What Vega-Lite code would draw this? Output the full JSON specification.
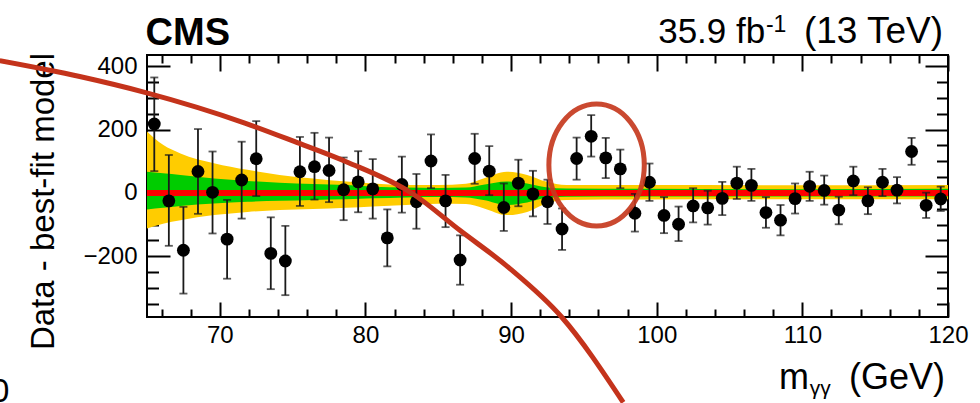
{
  "$schema": "https://vega.github.io/schema/vega-lite/v6.json",
  "width": 801,
  "height": 262,
  "autosize": {"type": "none"},
  "padding": {"left": 147, "top": 55, "right": 32, "bottom": 86},
  "background": "white",
  "config": {
    "view": {"stroke": "black", "strokeWidth": 2},
    "font": "Liberation Sans",
    "axis": {"domain": false, "grid": false, "tickColor": "black", "tickWidth": 2, "labelColor": "black", "labelFont": "Liberation Sans", "zindex": 1, "labelFlush": false, "labelOverlap": false}
  },
  "datasets": {
    "pts": [
      {"m": 65.5, "d": 218, "lo": 69, "hi": 365},
      {"m": 66.5, "d": -25, "lo": -167, "hi": 120},
      {"m": 67.5, "d": -181, "lo": -318, "hi": -44},
      {"m": 68.5, "d": 68, "lo": -66, "hi": 202},
      {"m": 69.5, "d": 2, "lo": -128, "hi": 131},
      {"m": 70.5, "d": -146, "lo": -271, "hi": -22},
      {"m": 71.5, "d": 41, "lo": -81, "hi": 162},
      {"m": 72.5, "d": 108, "lo": -10, "hi": 227},
      {"m": 73.5, "d": -191, "lo": -304, "hi": -77},
      {"m": 74.5, "d": -215, "lo": -323, "hi": -104},
      {"m": 75.5, "d": 67, "lo": -41, "hi": 177},
      {"m": 76.5, "d": 83, "lo": -21, "hi": 190},
      {"m": 77.5, "d": 71, "lo": -29, "hi": 175},
      {"m": 78.5, "d": 10, "lo": -86, "hi": 112},
      {"m": 79.5, "d": 35, "lo": -61, "hi": 132},
      {"m": 80.5, "d": 13, "lo": -81, "hi": 107},
      {"m": 81.5, "d": -142, "lo": -232, "hi": -52},
      {"m": 82.5, "d": 27, "lo": -62, "hi": 115},
      {"m": 83.5, "d": -28, "lo": -113, "hi": 60},
      {"m": 84.5, "d": 101, "lo": 15, "hi": 185},
      {"m": 85.5, "d": -25, "lo": -108, "hi": 57},
      {"m": 86.5, "d": -212, "lo": -290, "hi": -134},
      {"m": 87.5, "d": 109, "lo": 29, "hi": 187},
      {"m": 88.5, "d": 69, "lo": -7, "hi": 148},
      {"m": 89.5, "d": -46, "lo": -120, "hi": 30},
      {"m": 90.5, "d": 31, "lo": -42, "hi": 105},
      {"m": 91.5, "d": -3, "lo": -74, "hi": 70},
      {"m": 92.5, "d": -28, "lo": -98, "hi": 42},
      {"m": 93.5, "d": -114, "lo": -180, "hi": -49},
      {"m": 94.5, "d": 109, "lo": 42, "hi": 175},
      {"m": 95.5, "d": 179, "lo": 115, "hi": 246},
      {"m": 96.5, "d": 111, "lo": 47, "hi": 174},
      {"m": 97.5, "d": 76, "lo": 15, "hi": 137},
      {"m": 98.5, "d": -64, "lo": -122, "hi": -3},
      {"m": 99.5, "d": 34, "lo": -25, "hi": 93},
      {"m": 100.5, "d": -71, "lo": -127, "hi": -13},
      {"m": 101.5, "d": -99, "lo": -152, "hi": -43},
      {"m": 102.5, "d": -41, "lo": -93, "hi": 15},
      {"m": 103.5, "d": -47, "lo": -100, "hi": 7},
      {"m": 104.5, "d": -17, "lo": -70, "hi": 35},
      {"m": 105.5, "d": 31, "lo": -19, "hi": 83},
      {"m": 106.5, "d": 24, "lo": -25, "hi": 76},
      {"m": 107.5, "d": -62, "lo": -110, "hi": -13},
      {"m": 108.5, "d": -86, "lo": -134, "hi": -38},
      {"m": 109.5, "d": -18, "lo": -65, "hi": 30},
      {"m": 110.5, "d": 21, "lo": -25, "hi": 67},
      {"m": 111.5, "d": 8, "lo": -37, "hi": 55},
      {"m": 112.5, "d": -54, "lo": -99, "hi": -12},
      {"m": 113.5, "d": 38, "lo": -7, "hi": 83},
      {"m": 114.5, "d": -25, "lo": -67, "hi": 18},
      {"m": 115.5, "d": 34, "lo": -10, "hi": 76},
      {"m": 116.5, "d": 9, "lo": -33, "hi": 50},
      {"m": 117.5, "d": 131, "lo": 89, "hi": 174},
      {"m": 118.5, "d": -39, "lo": -79, "hi": 1},
      {"m": 119.5, "d": -19, "lo": -57, "hi": 20}
    ],
    "band": [
      {"m": 65, "y2lo": -112, "y2hi": 194, "y1lo": -52, "y1hi": 67},
      {"m": 66.1, "y2lo": -97, "y2hi": 152, "y1lo": -47, "y1hi": 62},
      {"m": 67.3, "y2lo": -86, "y2hi": 125, "y1lo": -41, "y1hi": 57},
      {"m": 69.6, "y2lo": -70, "y2hi": 94, "y1lo": -33, "y1hi": 46},
      {"m": 71.9, "y2lo": -60, "y2hi": 73, "y1lo": -28, "y1hi": 38},
      {"m": 74.1, "y2lo": -54, "y2hi": 57, "y1lo": -25, "y1hi": 32},
      {"m": 76.4, "y2lo": -51, "y2hi": 46, "y1lo": -22, "y1hi": 28},
      {"m": 78.7, "y2lo": -47, "y2hi": 36, "y1lo": -20, "y1hi": 25},
      {"m": 80.5, "y2lo": -43, "y2hi": 30, "y1lo": -17, "y1hi": 20},
      {"m": 82.8, "y2lo": -38, "y2hi": 25, "y1lo": -14, "y1hi": 17},
      {"m": 85, "y2lo": -34, "y2hi": 25, "y1lo": -13, "y1hi": 16},
      {"m": 86.9, "y2lo": -35, "y2hi": 29, "y1lo": -14, "y1hi": 17},
      {"m": 88.1, "y2lo": -48, "y2hi": 46, "y1lo": -22, "y1hi": 26},
      {"m": 89.7, "y2lo": -70, "y2hi": 67, "y1lo": -38, "y1hi": 36},
      {"m": 91.1, "y2lo": -60, "y2hi": 57, "y1lo": -30, "y1hi": 30},
      {"m": 92.4, "y2lo": -33, "y2hi": 36, "y1lo": -16, "y1hi": 18},
      {"m": 93.8, "y2lo": -22, "y2hi": 25, "y1lo": -12, "y1hi": 14},
      {"m": 99, "y2lo": -21, "y2hi": 25, "y1lo": -11, "y1hi": 13},
      {"m": 110, "y2lo": -20, "y2hi": 24, "y1lo": -11, "y1hi": 12},
      {"m": 120, "y2lo": -20, "y2hi": 25, "y1lo": -11, "y1hi": 13}
    ],
    "curve": [
      {"cx": 54.89, "cy": 418},
      {"cx": 60.38, "cy": 368},
      {"cx": 64.85, "cy": 318},
      {"cx": 71.72, "cy": 221},
      {"cx": 75.15, "cy": 162},
      {"cx": 78.72, "cy": 98},
      {"cx": 83.19, "cy": -1},
      {"cx": 86.48, "cy": -118},
      {"cx": 89.92, "cy": -239},
      {"cx": 93.47, "cy": -392},
      {"cx": 97.7, "cy": -662}
    ],
    "one": [{"k": 1}]
  },
  "resolve": {"axis": {"x": "independent", "y": "independent"}},
  "layer": [
    {
      "data": {"name": "band"},
      "mark": {"type": "area", "color": "#ffcc00", "interpolate": "monotone", "opacity": 1},
      "encoding": {
        "x": {"field": "m", "type": "quantitative", "scale": {"domain": [65, 120], "nice": false, "zero": false},
          "axis": {"orient": "bottom", "values": [70, 80, 90, 100, 110, 120], "tickSize": -15, "labelFontSize": 24, "labelPadding": 21, "title": null}},
        "y": {"field": "y2lo", "type": "quantitative", "scale": {"domain": [-392, 436], "nice": false, "zero": false},
          "axis": {"orient": "left", "values": [-200, 0, 200, 400], "tickSize": -23, "labelFontSize": 24, "labelPadding": 33,
            "title": "Data - best-fit model", "titleFont": "Liberation Sans", "titleFontSize": 33, "titleFontWeight": "normal", "titleColor": "black",
            "titleX": -94, "titleY": 146, "titleBaseline": "alphabetic", "titleAngle": -90, "titleAlign": "center"}},
        "y2": {"field": "y2hi"}
      }
    },
    {
      "data": {"name": "band"},
      "mark": {"type": "area", "color": "#00cc00", "interpolate": "monotone", "opacity": 1},
      "encoding": {
        "x": {"field": "m", "type": "quantitative", "scale": {"domain": [65, 120], "nice": false, "zero": false},
          "axis": {"orient": "bottom", "values": [66, 68, 72, 74, 76, 78, 82, 84, 86, 88, 92, 94, 96, 98, 102, 104, 106, 108, 112, 114, 116, 118], "tickSize": -8, "labels": false, "title": null}},
        "y": {"field": "y1lo", "type": "quantitative", "scale": {"domain": [-392, 436], "nice": false, "zero": false},
          "axis": {"orient": "left", "values": [-350, -300, -250, -150, -100, -50, 50, 100, 150, 250, 300, 350], "tickSize": -11.5, "labels": false, "title": null}},
        "y2": {"field": "y1hi"}
      }
    },
    {
      "data": {"name": "band"},
      "mark": {"type": "line", "color": "#ff0000", "strokeWidth": 6},
      "encoding": {
        "x": {"field": "m", "type": "quantitative", "scale": {"domain": [65, 120], "nice": false, "zero": false},
          "axis": {"orient": "top", "values": [70, 80, 90, 100, 110, 120], "tickSize": -16, "labels": false, "title": null}},
        "y": {"datum": 0, "type": "quantitative", "scale": {"domain": [-392, 436], "nice": false, "zero": false},
          "axis": {"orient": "right", "values": [-200, 0, 200, 400], "tickSize": -23, "labels": false, "title": null}}
      }
    },
    {
      "data": {"name": "pts"},
      "mark": {"type": "rule", "color": "#1a1a1a", "strokeWidth": 1.8},
      "encoding": {
        "x": {"field": "m", "type": "quantitative", "scale": {"domain": [65, 120], "nice": false, "zero": false},
          "axis": {"orient": "top", "values": [66, 68, 72, 74, 76, 78, 82, 84, 86, 88, 92, 94, 96, 98, 102, 104, 106, 108, 112, 114, 116, 118], "tickSize": -8, "labels": false, "title": null}},
        "y": {"field": "lo", "type": "quantitative", "scale": {"domain": [-392, 436], "nice": false, "zero": false},
          "axis": {"orient": "right", "values": [-350, -300, -250, -150, -100, -50, 50, 100, 150, 250, 300, 350], "tickSize": -11.5, "labels": false, "title": null}},
        "y2": {"field": "hi"}
      }
    },
    {
      "data": {"name": "pts"},
      "mark": {"type": "tick", "orient": "horizontal", "color": "#1a1a1a", "size": 8, "thickness": 1.8},
      "encoding": {
        "x": {"field": "m", "type": "quantitative", "scale": {"domain": [65, 120], "nice": false, "zero": false}, "axis": null},
        "y": {"field": "lo", "type": "quantitative", "scale": {"domain": [-392, 436], "nice": false, "zero": false}, "axis": null}
      }
    },
    {
      "data": {"name": "pts"},
      "mark": {"type": "tick", "orient": "horizontal", "color": "#1a1a1a", "size": 8, "thickness": 1.8},
      "encoding": {
        "x": {"field": "m", "type": "quantitative", "scale": {"domain": [65, 120], "nice": false, "zero": false}, "axis": null},
        "y": {"field": "hi", "type": "quantitative", "scale": {"domain": [-392, 436], "nice": false, "zero": false}, "axis": null}
      }
    },
    {
      "data": {"name": "pts"},
      "mark": {"type": "point", "shape": "circle", "filled": true, "color": "black", "size": 165, "opacity": 1},
      "encoding": {
        "x": {"field": "m", "type": "quantitative", "scale": {"domain": [65, 120], "nice": false, "zero": false}, "axis": null},
        "y": {"field": "d", "type": "quantitative", "scale": {"domain": [-392, 436], "nice": false, "zero": false}, "axis": null}
      }
    },
    {
      "data": {"name": "curve"},
      "mark": {"type": "line", "color": "#c4331b", "strokeWidth": 5, "interpolate": "monotone", "clip": false},
      "encoding": {
        "x": {"field": "cx", "type": "quantitative", "scale": {"domain": [65, 120], "nice": false, "zero": false}, "axis": null},
        "y": {"field": "cy", "type": "quantitative", "scale": {"domain": [-392, 436], "nice": false, "zero": false}, "axis": null}
      }
    },
    {
      "data": {"name": "one"},
      "mark": {"type": "point", "shape": "M 0.782 0 C 0.782 0.552 0.432 1 0 1 C -0.432 1 -0.782 0.552 -0.782 0 C -0.782 -0.552 -0.432 -1 0 -1 C 0.432 -1 0.782 -0.552 0.782 0 Z", "size": 14884, "filled": false, "color": "#c63a1f", "strokeWidth": 5, "opacity": 0.92},
      "encoding": {
        "x": {"datum": 95.87, "type": "quantitative", "scale": {"domain": [65, 120], "nice": false, "zero": false}, "axis": null},
        "y": {"datum": 88.4, "type": "quantitative", "scale": {"domain": [-392, 436], "nice": false, "zero": false}, "axis": null}
      }
    },
    {
      "data": {"name": "one"},
      "mark": {"type": "text", "text": "CMS", "font": "Liberation Sans", "fontSize": 38, "fontWeight": "bold", "align": "left", "baseline": "alphabetic", "color": "black"},
      "encoding": {
        "x": {"datum": 64.9, "type": "quantitative", "scale": {"domain": [65, 120], "nice": false, "zero": false}, "axis": null},
        "y": {"datum": 469, "type": "quantitative", "scale": {"domain": [-392, 436], "nice": false, "zero": false}, "axis": null}
      }
    },
    {
      "data": {"name": "one"},
      "mark": {"type": "text", "text": "35.9 fb", "font": "Liberation Sans", "fontSize": 35, "align": "right", "baseline": "alphabetic", "color": "black"},
      "encoding": {
        "x": {"datum": 107.45, "type": "quantitative", "scale": {"domain": [65, 120], "nice": false, "zero": false}, "axis": null},
        "y": {"datum": 474, "type": "quantitative", "scale": {"domain": [-392, 436], "nice": false, "zero": false}, "axis": null}
      }
    },
    {
      "data": {"name": "one"},
      "mark": {"type": "text", "text": "-1", "font": "Liberation Sans", "fontSize": 23, "align": "left", "baseline": "alphabetic", "color": "black"},
      "encoding": {
        "x": {"datum": 107.5, "type": "quantitative", "scale": {"domain": [65, 120], "nice": false, "zero": false}, "axis": null},
        "y": {"datum": 510, "type": "quantitative", "scale": {"domain": [-392, 436], "nice": false, "zero": false}, "axis": null}
      }
    },
    {
      "data": {"name": "one"},
      "mark": {"type": "text", "text": "(13 TeV)", "font": "Liberation Sans", "fontSize": 37, "align": "right", "baseline": "alphabetic", "color": "black"},
      "encoding": {
        "x": {"datum": 119.66, "type": "quantitative", "scale": {"domain": [65, 120], "nice": false, "zero": false}, "axis": null},
        "y": {"datum": 474, "type": "quantitative", "scale": {"domain": [-392, 436], "nice": false, "zero": false}, "axis": null}
      }
    },
    {
      "data": {"name": "one"},
      "mark": {"type": "text", "text": "m", "font": "Liberation Sans", "fontSize": 36, "align": "left", "baseline": "alphabetic", "color": "black"},
      "encoding": {
        "x": {"datum": 108.4, "type": "quantitative", "scale": {"domain": [65, 120], "nice": false, "zero": false}, "axis": null},
        "y": {"datum": -618, "type": "quantitative", "scale": {"domain": [-392, 436], "nice": false, "zero": false}, "axis": null}
      }
    },
    {
      "data": {"name": "one"},
      "mark": {"type": "text", "text": "γγ", "font": "Liberation Sans", "fontSize": 21, "align": "left", "baseline": "alphabetic", "color": "black"},
      "encoding": {
        "x": {"datum": 110.5, "type": "quantitative", "scale": {"domain": [65, 120], "nice": false, "zero": false}, "axis": null},
        "y": {"datum": -637, "type": "quantitative", "scale": {"domain": [-392, 436], "nice": false, "zero": false}, "axis": null}
      }
    },
    {
      "data": {"name": "one"},
      "mark": {"type": "text", "text": "(GeV)", "font": "Liberation Sans", "fontSize": 36, "align": "right", "baseline": "alphabetic", "color": "black"},
      "encoding": {
        "x": {"datum": 119.79, "type": "quantitative", "scale": {"domain": [65, 120], "nice": false, "zero": false}, "axis": null},
        "y": {"datum": -618, "type": "quantitative", "scale": {"domain": [-392, 436], "nice": false, "zero": false}, "axis": null}
      }
    },
    {
      "data": {"name": "one"},
      "mark": {"type": "text", "text": "0", "font": "Liberation Sans", "fontSize": 33, "align": "center", "baseline": "alphabetic", "color": "black"},
      "encoding": {
        "x": {"datum": 54.92, "type": "quantitative", "scale": {"domain": [65, 120], "nice": false, "zero": false}, "axis": null},
        "y": {"datum": -662, "type": "quantitative", "scale": {"domain": [-392, 436], "nice": false, "zero": false}, "axis": null}
      }
    }
  ]
}
